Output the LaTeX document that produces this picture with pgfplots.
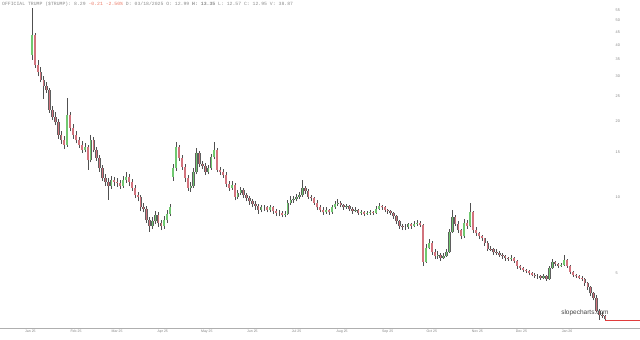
\documentclass[border=0pt]{standalone}
\usepackage{fontspec}
\setmainfont{Liberation Sans}
\newfontfamily\monofont{Liberation Mono}
\usepackage{pgfplots}
\usepackage{pgfplotstable}
\pgfplotsset{compat=1.18}
\definecolor{upgreen}{RGB}{112,200,112}
\definecolor{dnred}{RGB}{210,115,125}
\definecolor{wick}{RGB}{80,80,80}
\definecolor{edge}{RGB}{95,95,95}
\definecolor{lbl}{RGB}{130,130,130}
\definecolor{hdr}{RGB}{140,140,140}
\definecolor{hdrred}{RGB}{235,120,100}
\definecolor{nowred}{RGB}{225,60,60}
\definecolor{axgray}{RGB}{175,175,175}
\pgfplotstableread{
d o h l c
1 36.5 56.0 34.9 43.8
3 43.8 44.5 32.5 33.3
5 33.3 35.0 30.0 31.2
7 31.2 32.6 28.4 29.1
9 29.1 30.2 24.5 27.5
11 27.5 28.6 25.8 26.5
13 26.5 27.0 21.5 22.1
15 22.1 23.0 20.2 20.8
17 20.8 21.6 19.2 19.8
19 19.8 20.3 17.0 17.6
21 17.6 18.3 16.2 16.8
23 16.8 17.4 15.5 16.1
25 16.1 24.7 15.8 21.1
27 21.1 21.6 18.2 18.8
29 18.8 19.4 17.0 17.6
31 17.6 18.2 16.3 16.8
33 16.8 17.3 15.6 16.1
35 16.1 16.6 14.9 15.4
37 15.4 16.3 15.0 15.7
39 15.7 16.0 12.8 14.0
41 14.0 17.6 13.7 16.8
43 16.8 17.2 15.0 15.4
45 15.4 15.8 13.9 14.3
47 14.3 14.7 12.6 13.0
49 13.0 13.4 11.6 11.9
51 11.9 12.3 11.1 11.5
53 11.5 11.9 9.74 11.1
55 11.1 12.1 10.8 11.7
57 11.7 12.0 11.1 11.5
59 11.5 11.9 11.0 11.4
61 11.4 11.7 10.8 11.1
63 11.1 12.1 10.9 11.7
65 11.7 12.6 11.4 12.0
67 12.0 12.3 11.1 11.5
69 11.5 11.8 10.6 10.9
71 10.9 11.2 9.9 10.2
73 10.2 10.5 9.6 10.0
75 10.0 10.2 8.8 9.1
77 9.1 9.5 8.7 9.0
79 9.0 9.2 7.9 8.1
81 8.1 8.3 7.3 7.7
83 7.7 8.3 7.5 8.0
85 8.0 8.8 7.8 8.5
87 8.5 8.7 7.6 7.9
89 7.9 8.1 7.4 7.7
91 7.7 8.4 7.5 8.1
93 8.1 8.9 7.9 8.6
95 8.6 9.4 8.4 9.1
97 12.0 13.5 11.6 13.0
99 13.0 16.5 12.7 15.7
101 15.7 16.0 13.9 14.3
103 14.3 14.6 12.8 13.2
105 13.2 13.5 11.5 11.9
107 11.9 12.2 10.6 10.9
109 10.9 11.5 10.5 11.1
111 11.1 13.0 10.9 12.6
113 12.6 15.6 12.3 14.9
115 14.9 15.2 13.1 13.5
117 13.5 13.9 12.9 13.3
119 13.3 13.6 12.2 12.6
121 12.6 13.4 12.3 13.0
123 13.0 14.8 12.8 14.4
125 14.4 16.5 14.1 15.4
127 15.4 15.6 12.5 12.8
129 12.8 13.1 12.2 12.6
131 12.6 12.9 11.9 12.2
133 12.2 12.5 11.0 11.3
135 11.3 11.6 10.6 10.9
137 10.9 11.6 10.7 11.2
139 11.2 11.4 9.7 10.0
141 10.0 10.7 9.8 10.4
143 10.4 11.0 10.2 10.7
145 10.7 10.9 9.9 10.2
147 10.2 10.4 9.6 9.9
149 9.9 10.1 9.3 9.6
151 9.6 9.8 9.1 9.4
153 9.4 9.6 8.9 9.2
155 9.2 9.4 8.6 8.9
157 8.9 9.3 8.7 9.1
159 9.1 9.3 8.8 9.1
161 9.1 9.2 8.7 8.9
163 8.9 9.3 8.7 9.1
165 9.1 9.2 8.6 8.8
167 8.8 9.0 8.4 8.65
169 8.65 8.9 8.4 8.65
171 8.65 8.8 8.3 8.5
173 8.5 8.8 8.3 8.6
175 8.6 9.7 8.5 9.5
177 9.5 10.1 9.3 9.74
179 9.74 10.1 9.5 9.8
181 9.8 10.3 9.6 10.0
183 10.0 10.5 9.8 10.2
185 10.2 11.7 10.0 10.9
187 10.9 11.1 10.3 10.6
189 10.6 10.8 9.8 10.0
191 10.0 10.2 9.6 9.9
193 9.9 10.0 9.3 9.5
195 9.5 9.7 8.9 9.1
197 9.1 9.3 8.7 8.9
199 8.9 9.1 8.5 8.7
201 8.7 9.1 8.6 8.9
203 8.9 9.0 8.5 8.7
205 8.7 9.3 8.6 9.1
207 9.1 9.6 9.0 9.4
209 9.4 9.8 9.2 9.5
211 9.5 9.6 9.1 9.3
213 9.3 9.4 8.9 9.1
215 9.1 9.4 9.0 9.2
217 9.2 9.3 8.8 9.0
219 9.0 9.1 8.6 8.8
221 8.8 9.1 8.7 8.9
223 8.9 9.0 8.5 8.65
225 8.65 8.9 8.5 8.7
227 8.7 8.8 8.4 8.6
229 8.6 8.8 8.5 8.65
231 8.65 8.9 8.5 8.7
233 8.7 8.8 8.5 8.65
235 8.65 9.2 8.6 9.0
237 9.0 9.5 8.9 9.2
239 9.2 9.3 8.9 9.1
241 9.1 9.2 8.7 8.9
243 8.9 9.0 8.6 8.8
245 8.8 8.9 8.5 8.65
247 8.65 8.7 8.2 8.4
249 8.4 8.5 7.8 8.0
251 8.0 8.1 7.5 7.7
253 7.7 7.8 7.4 7.6
255 7.6 7.8 7.4 7.6
257 7.6 7.9 7.5 7.8
259 7.8 7.9 7.5 7.7
261 7.7 8.0 7.6 7.85
263 7.85 8.1 7.7 7.9
265 7.9 8.0 7.6 7.75
267 7.75 7.8 5.35 5.55
269 5.55 6.5 5.5 6.3
271 6.3 6.8 6.2 6.6
273 6.6 6.7 5.9 6.05
275 6.05 6.2 5.7 5.85
277 5.85 6.1 5.7 5.9
279 5.9 6.0 5.6 5.75
281 5.75 6.0 5.7 5.85
283 5.85 6.2 5.8 6.05
285 6.05 7.5 6.0 7.3
287 7.3 8.9 7.2 8.35
289 8.35 8.5 7.7 7.85
291 7.85 8.0 7.2 7.4
293 7.4 7.5 6.8 7.0
295 7.0 8.2 6.9 7.9
297 7.9 8.1 7.5 7.7
299 7.7 9.5 7.6 8.7
301 8.7 8.8 7.2 7.4
303 7.4 7.6 7.0 7.2
305 7.2 7.3 6.8 7.0
307 7.0 7.1 6.7 6.85
309 6.85 6.9 6.4 6.6
311 6.6 6.7 6.1 6.25
313 6.25 6.4 6.1 6.2
315 6.2 6.3 5.9 6.05
317 6.05 6.2 5.9 6.0
319 6.0 6.1 5.8 5.9
321 5.9 6.0 5.7 5.85
323 5.85 5.9 5.6 5.75
325 5.75 5.8 5.6 5.7
327 5.7 5.9 5.6 5.75
329 5.75 5.8 5.5 5.6
331 5.6 5.65 5.2 5.35
333 5.35 5.4 5.15 5.25
335 5.25 5.3 5.05 5.15
337 5.15 5.2 5.0 5.1
339 5.1 5.15 4.9 5.0
341 5.0 5.05 4.85 4.92
343 4.92 5.0 4.78 4.85
345 4.85 4.95 4.75 4.85
347 4.85 4.9 4.7 4.8
349 4.8 4.95 4.72 4.85
351 4.85 4.9 4.65 4.75
353 4.75 5.35 4.7 5.25
355 5.25 5.7 5.2 5.55
357 5.55 5.6 5.35 5.45
359 5.45 5.5 5.25 5.35
361 5.35 5.5 5.3 5.4
363 5.4 5.9 5.35 5.65
365 5.65 5.7 5.25 5.35
367 5.35 5.4 4.95 5.05
369 5.05 5.1 4.82 4.9
371 4.9 4.95 4.78 4.85
373 4.85 4.9 4.72 4.8
375 4.8 4.85 4.65 4.75
377 4.75 4.8 4.45 4.55
379 4.55 4.6 4.3 4.4
381 4.4 4.45 4.05 4.15
383 4.15 4.2 3.9 4.0
385 4.0 4.1 3.5 3.55
387 3.55 3.6 3.26 3.42
389 3.42 3.5 3.32 3.38
391 3.38 3.42 3.24 3.28
}\candles

\begin{document}
\begin{tikzpicture}
\useasboundingbox (0,0) rectangle (640pt,340pt);
\begin{axis}[
  at={(0pt,12pt)}, anchor=south west,
  scale only axis, width=640pt, height=328pt,
  xmin=-20.7, xmax=414.6,
  ymode=log, ymin=3.03, ymax=60.2,
  unbounded coords=discard,
  axis x line*=bottom, axis y line*=right,
  x axis line style={draw=axgray, line width=0.8pt, -},
  y axis line style={draw=none},
  major tick length=0pt, minor tick num=0,
  xtick={0,31,59,90,120,151,181,212,243,273,304,334,365},
  xticklabels={Jan 25,Feb 25,Mar 25,Apr 25,May 25,Jun 25,Jul 25,Aug 25,Sep 25,Oct 25,Nov 25,Dec 25,Jan 26},
  ytick={5,10,15,20,25,30,35,40,45,50,55},
  yticklabels={5,10,15,20,25,30,35,40,45,50,55},
  /pgf/number format/assume math mode=true,
  xticklabel style={font=\fontsize{3.5}{4}\selectfont, text=lbl, inner sep=1.5pt},
  yticklabel style={font=\fontsize{3.8}{4}\selectfont, text=lbl, inner sep=0pt, anchor=west, xshift=-24.5pt},
]
% wicks
\addplot[forget plot, draw=none, mark=none,
  error bars/.cd, y dir=plus, y explicit, error mark=none,
  error bar style={draw=wick, line width=0.5pt, solid}]
  table[x=d, y=l, y error plus expr=\thisrow{h}-\thisrow{l}] {\candles};
% body outlines
\addplot[forget plot, draw=none, mark=none,
  restrict expr to domain={\thisrow{c}-\thisrow{o}}{0:1000},
  error bars/.cd, y dir=plus, y explicit, error mark=none,
  error bar style={draw=edge, line width=2.3pt, solid}]
  table[x=d, y=o, y error plus expr=\thisrow{c}-\thisrow{o}] {\candles};
\addplot[forget plot, draw=none, mark=none,
  restrict expr to domain={\thisrow{o}-\thisrow{c}}{0.0001:1000},
  error bars/.cd, y dir=plus, y explicit, error mark=none,
  error bar style={draw=edge, line width=2.3pt, solid}]
  table[x=d, y=c, y error plus expr=\thisrow{o}-\thisrow{c}] {\candles};
% up bodies
\addplot[forget plot, draw=none, mark=none,
  restrict expr to domain={\thisrow{c}-\thisrow{o}}{0:1000},
  error bars/.cd, y dir=plus, y explicit, error mark=none,
  error bar style={draw=upgreen, line width=1.5pt, solid}]
  table[x=d, y=o, y error plus expr=\thisrow{c}-\thisrow{o}] {\candles};
% down bodies
\addplot[forget plot, draw=none, mark=none,
  restrict expr to domain={\thisrow{o}-\thisrow{c}}{0.0001:1000},
  error bars/.cd, y dir=plus, y explicit, error mark=none,
  error bar style={draw=dnred, line width=1.5pt, solid}]
  table[x=d, y=c, y error plus expr=\thisrow{o}-\thisrow{c}] {\candles};
% current price line
\addplot[nowred, line width=0.7pt, mark=none] coordinates {(391,3.26) (414.6,3.26)};
\node[anchor=center, font=\fontsize{6.5}{7}\selectfont, text={rgb,255:red,70;green,70;blue,70}, inner sep=0pt]
  at (rel axis cs:0.914,0.046) {slopecharts.com};
\node[anchor=west, font=\monofont\fontsize{4.8}{5}\selectfont, text=hdr, inner sep=0pt]
  at (rel axis cs:0.003,0.988) {OFFICIAL TRUMP (\$TRUMP): 8.29 \textcolor{hdrred}{-0.21 -2.50\%} D: 03/18/2025 O: 12.99 \textbf{H: 13.35} L: 12.57 C: 12.95 V: 38.87};
\end{axis}
\end{tikzpicture}
\end{document}
